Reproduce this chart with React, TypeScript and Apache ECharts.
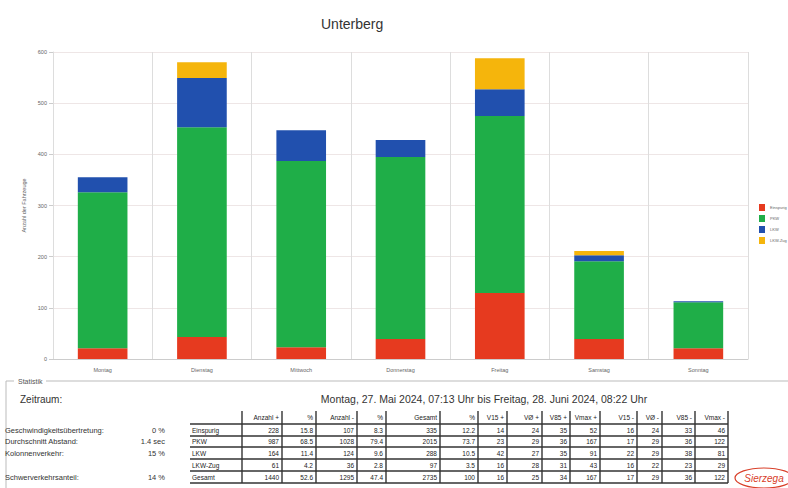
import React, { useEffect, useRef } from "react";
import * as echarts from "echarts";

const title = "Unterberg";
const categories = ["Montag", "Dienstag", "Mittwoch", "Donnerstag", "Freitag", "Samstag", "Sonntag"];
const seriesNames = ["Einspurig", "PKW", "LKW", "LKW-Zug"];
const einspurig = [21, 43, 23, 39, 129, 39, 21];
const pkw = [305, 410, 364, 356, 346, 152, 90];
const lkw = [29, 96, 60, 33, 52, 12, 2];
const lkwZug = [0, 31, 0, 0, 61, 8, 0];
const seriesColors = ["#E63A1F", "#1FAE48", "#2150AE", "#F5B50C"];
const yTicks = [0, 100, 200, 300, 400, 500, 600];

const tableHeaders = ["Anzahl +", "%", "Anzahl -", "%", "Gesamt", "%", "V15 +", "VØ +", "V85 +", "Vmax +", "V15 -", "VØ -", "V85 -", "Vmax -"];
const rowLabels = ["Einspurig", "PKW", "LKW", "LKW-Zug", "Gesamt"];
const rowEinspurig = ["228", "15.8", "107", "8.3", "335", "12.2", "14", "24", "35", "52", "16", "24", "33", "46"];
const rowPkw = ["987", "68.5", "1028", "79.4", "2015", "73.7", "23", "29", "36", "167", "17", "29", "36", "122"];
const rowLkw = ["164", "11.4", "124", "9.6", "288", "10.5", "42", "27", "35", "91", "22", "29", "38", "81"];
const rowLkwZug = ["61", "4.2", "36", "2.8", "97", "3.5", "16", "28", "31", "43", "16", "22", "23", "29"];
const rowGesamt = ["1440", "52.6", "1295", "47.4", "2735", "100", "16", "25", "34", "167", "17", "29", "36", "122"];
const statLabels = ["Geschwindigkeitsübertretung:", "Durchschnitt Abstand:", "Kolonnenverkehr:", "", "Schwerverkehrsanteil:"];
const statValues = ["0 %", "1.4 sec", "15 %", "", "14 %"];
const period = "Montag, 27. Mai 2024, 07:13 Uhr bis Freitag, 28. Juni 2024, 08:22 Uhr";

export default function App() {
  const ref = useRef<HTMLDivElement>(null);
  useEffect(() => {
    if (!ref.current) return;
    const chart = echarts.init(ref.current, null, { renderer: "svg" });
    const font = "Liberation Sans, Arial, sans-serif";
    const tableRows = [rowEinspurig, rowPkw, rowLkw, rowLkwZug, rowGesamt];
    const colEdges = [190, 242, 282, 316, 357, 386, 440, 478, 507, 542, 570, 600, 637, 662, 695, 728];
    const rowEdges = [411, 424, 436, 447, 459, 471, 483];
    const lineColor = "#333";
    const graphics: any[] = [];
    // fieldset frame
    graphics.push({ type: "line", shape: { x1: 6, y1: 381, x2: 14, y2: 381 }, style: { stroke: "#bbb", lineWidth: 1 } });
    graphics.push({ type: "line", shape: { x1: 46, y1: 381, x2: 788, y2: 381 }, style: { stroke: "#bbb", lineWidth: 1 } });
    graphics.push({ type: "line", shape: { x1: 6, y1: 381, x2: 6, y2: 488 }, style: { stroke: "#bbb", lineWidth: 1 } });
    graphics.push({ type: "text", x: 18, y: 381, style: { text: "Statistik", font: `7px ${font}`, fill: "#555", textVerticalAlign: "middle" } });
    graphics.push({ type: "text", x: 20, y: 399, style: { text: "Zeitraum:", font: `10px ${font}`, fill: "#333", textVerticalAlign: "middle" } });
    graphics.push({ type: "text", x: 484, y: 399, style: { text: period, font: `10.5px ${font}`, fill: "#333", textAlign: "center", textVerticalAlign: "middle" } });
    // stats at left
    statLabels.forEach((s, i) => {
      if (!s) return;
      const cy = (rowEdges[i + 1] + rowEdges[i + 2]) / 2;
      graphics.push({ type: "text", x: 5, y: cy, style: { text: s, font: `7.5px ${font}`, fill: "#333", textVerticalAlign: "middle" } });
      graphics.push({ type: "text", x: 165, y: cy, style: { text: statValues[i], font: `7.5px ${font}`, fill: "#333", textAlign: "right", textVerticalAlign: "middle" } });
    });
    // table lines
    for (let r = 1; r < rowEdges.length; r++) {
      graphics.push({ type: "line", shape: { x1: colEdges[0], y1: rowEdges[r], x2: colEdges[colEdges.length - 1], y2: rowEdges[r] }, style: { stroke: lineColor, lineWidth: 1.4 } });
    }
    for (let c = 1; c < colEdges.length; c++) {
      graphics.push({ type: "line", shape: { x1: colEdges[c], y1: rowEdges[0], x2: colEdges[c], y2: rowEdges[rowEdges.length - 1] }, style: { stroke: lineColor, lineWidth: 1.4 } });
    }
    tableHeaders.forEach((h, c) => {
      graphics.push({ type: "text", x: colEdges[c + 2] - 3, y: (rowEdges[0] + rowEdges[1]) / 2, style: { text: h, font: `6.5px ${font}`, fill: "#222", textAlign: "right", textVerticalAlign: "middle" } });
    });
    rowLabels.forEach((l, r) => {
      const cy = (rowEdges[r + 1] + rowEdges[r + 2]) / 2;
      graphics.push({ type: "text", x: colEdges[0] + 2, y: cy, style: { text: l, font: `6.5px ${font}`, fill: "#222", textVerticalAlign: "middle" } });
      tableRows[r].forEach((v, c) => {
        graphics.push({ type: "text", x: colEdges[c + 2] - 3, y: cy, style: { text: v, font: `6.5px ${font}`, fill: "#222", textAlign: "right", textVerticalAlign: "middle" } });
      });
    });
    // logo
    graphics.push({ type: "ellipse", shape: { cx: 764, cy: 478, rx: 29, ry: 10 }, style: { stroke: "#D9402A", fill: "none", lineWidth: 1.2 } });
    graphics.push({ type: "text", x: 764, y: 478, style: { text: "Sierzega", font: `italic 10px ${font}`, fill: "#D9402A", textAlign: "center", textVerticalAlign: "middle" } });

    const data = [einspurig, pkw, lkw, lkwZug];
    chart.setOption({
      animation: false,
      backgroundColor: "#ffffff",
      title: { text: title, left: 316, top: 12, textStyle: { fontFamily: font, fontSize: 14, fontWeight: "normal", color: "#333" } },
      legend: {
        orient: "vertical", left: 754, top: 199, itemWidth: 6, itemHeight: 7, itemGap: 4, icon: "rect",
        textStyle: { fontSize: 4, color: "#666", fontFamily: font }, data: seriesNames,
      },
      grid: { left: 53, right: 40, top: 52, bottom: 129 },
      xAxis: {
        type: "category", data: categories,
        axisLine: { lineStyle: { color: "#ccc" } }, axisTick: { show: false },
        axisLabel: { fontSize: 5.5, color: "#666", fontFamily: font, margin: 8 },
        splitLine: { show: true, lineStyle: { color: "#ddd" } },
      },
      yAxis: {
        type: "value", min: yTicks[0], max: yTicks[yTicks.length - 1], interval: 100,
        name: "Anzahl der Fahrzeuge", nameLocation: "middle", nameGap: 16,
        nameTextStyle: { fontSize: 5.5, color: "#666", fontFamily: font },
        axisLine: { show: true, lineStyle: { color: "#ddd" } }, axisTick: { show: true, length: 4, lineStyle: { color: "#ccc" } },
        axisLabel: { fontSize: 5.5, color: "#666", fontFamily: font, margin: 6 },
        splitLine: { show: true, lineStyle: { color: "#eee6e6" } },
      },
      series: seriesNames.map((n, i) => ({
        name: n, type: "bar", stack: "total", barWidth: "50%",
        data: data[i], itemStyle: { color: seriesColors[i] },
      })),
      graphic: graphics,
    });
    return () => chart.dispose();
  }, []);
  return <div ref={ref} style={{ position: "absolute", left: 0, top: 0, width: 788, height: 488 }} />;
}
